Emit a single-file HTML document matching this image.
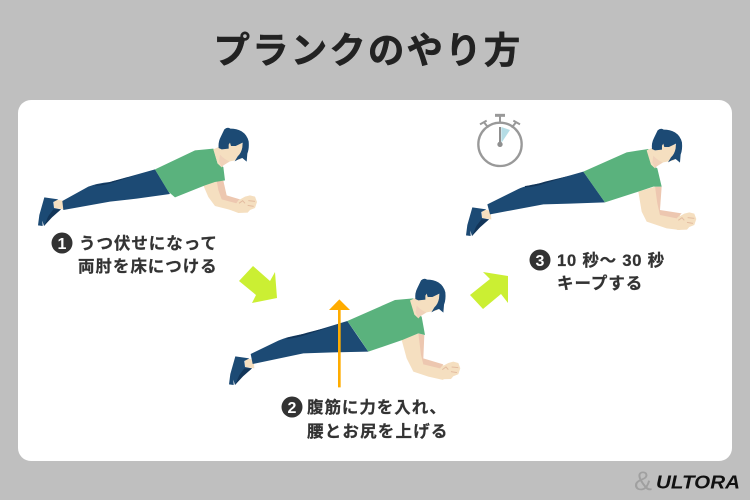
<!DOCTYPE html>
<html lang="ja"><head><meta charset="utf-8"><style>
html,body{margin:0;padding:0;background:#bfbfbf;width:750px;height:500px;overflow:hidden}
svg{display:block}
.t{font-family:"Liberation Sans","Noto Sans CJK JP",sans-serif;font-weight:700;fill:#333;stroke:#333;stroke-width:.25px;font-size:16.5px;letter-spacing:.95px}
.n{font-family:"Liberation Sans",sans-serif;font-weight:700;font-size:16px;fill:#fff}
</style></head><body>
<svg width="750" height="500" viewBox="0 0 750 500" xmlns="http://www.w3.org/2000/svg">
<defs>
<g id="head" transform="translate(195 122) scale(.33333)">
<path d="M55 82L100 62L145 64L136 112L105 118L85 130L80 136L68 125Z" fill="#f5dfc0"/>
<path d="M75 98Q88 112 103 118L85 130L80 136L72 118Z" fill="#f0d2ba"/>
<path d="M88 22Q98 14 106 20Q125 20 140 28Q156 38 161 58Q163 80 157 95L155 119L142 108L130 112L119 118L128 103Q139 93 142 76L143 62L122 72L108 72L105 62L101 68L101 80L80 82L71 78Q69 60 77 45Z" fill="#1c4a74"/>
</g>
<g id="fist" transform="translate(195 122) scale(.33333)">
<path d="M130 235L150 224L165 220L180 224L186 240L180 258L165 264L158 272L130 273L110 265Z" fill="#f5dfc0"/>
<path d="M160 236L180 238M158 250L176 253M132 244L143 236L150 244" stroke="#e3bca0" stroke-width="3" fill="none"/>
</g>
<g id="shoe" transform="translate(30 120) scale(.33333)">
<path d="M72 238L98 242L100 268L72 264Z" fill="#f5dfc0"/>
<path d="M43 232L85 238L70 246L72 264L93 268L66 290L42 318L37 302L38 318L24 316L28 285Z" fill="#1c4a74"/>
<path d="M70 268L93 268L66 292L42 318L55 288Z" fill="#123559"/>
</g>
</defs>

<rect width="750" height="500" fill="#bfbfbf"/>
<rect x="18" y="100" width="714" height="361" rx="13" fill="#fff"/>
<text x="213.5" y="63" style="font-family:'Noto Sans CJK JP',sans-serif;font-weight:700;font-size:36.5px;letter-spacing:2.1px;stroke:#222;stroke-width:.5px" fill="#222">プランクのやり方</text>

<!-- Figure 1 -->
<use href="#shoe"/>
<g transform="translate(30 120) scale(.33333)">
<path d="M97 243L175 200Q200 190 240 186L375 148L420 222L320 236L240 245L100 270Z" fill="#1c4a74"/>
<path d="M195 194Q220 193 250 183L320 165L250 187Q220 197 195 197Z" fill="#123559"/>
<path d="M520 196L570 182L590 228L630 240L625 278L595 268L555 258L535 231Z" fill="#f5dfc0"/>
<path d="M560 182L580 182L590 226L630 238L620 250L575 238L565 210Z" fill="#edc7b0"/>
<path d="M375 148L495 91L550 86L563 131L580 141L585 181L555 186L525 196L435 232L415 215Z" fill="#5ab27d"/>
</g>
<use href="#fist"/>
<use href="#head"/>

<!-- Figure 2 -->
<use href="#shoe" transform="translate(191 159)"/>
<g transform="translate(220 270) scale(.33333)">
<path d="M92 252L175 212Q200 200 260 190L382 153L445 245L340 247L250 250L98 282Z" fill="#1c4a74"/>
<path d="M200 203Q230 198 262 188L340 168L262 193Q230 204 200 207Z" fill="#123559"/>
<path d="M545 210L595 190L610 270L670 285L670 330L625 320L580 305L560 265Z" fill="#f5dfc0"/>
<path d="M595 190L613 195L610 265L670 283L660 295L610 283L603 255Z" fill="#edc7b0"/>
<path d="M382 153L525 90L580 85L587 130L605 140L615 195L595 190L547 210L445 245L415 200Z" fill="#5ab27d"/>
<path d="M358 352V118" stroke="#ffac00" stroke-width="8"/>
<path d="M327 120L358 88L390 120Z" fill="#ffac00"/>
</g>
<use href="#fist" transform="translate(203.3 166.3)"/>
<use href="#head" transform="translate(196.7 151)"/>

<!-- Figure 3 -->
<use href="#shoe" transform="translate(428 10)"/>
<g transform="translate(460 105) scale(.33333)">
<path d="M82 298L175 252Q200 240 250 234L370 200L435 292L330 296L250 298L90 328Z" fill="#1c4a74"/>
<path d="M195 243Q225 240 255 230L330 212L255 235Q225 246 195 247Z" fill="#123559"/>
<path d="M535 260L585 245L600 318L660 328L660 375L620 370L560 350L545 320Z" fill="#f5dfc0"/>
<path d="M585 245L605 245L600 315L665 325L650 340L600 330L592 295Z" fill="#edc7b0"/>
<path d="M370 200L500 142L565 132L575 178L592 190L605 245L580 245L535 260L435 292L405 250Z" fill="#5ab27d"/>
<circle cx="120" cy="118" r="65" fill="none" stroke="#999" stroke-width="7"/>
<path d="M124 66L150 75L124 114Z" fill="#b5dde6"/>
<path d="M120 118V66" stroke="#8f8f8f" stroke-width="6"/>
<circle cx="120" cy="118" r="8" fill="#8f8f8f"/>
<path d="M105 31H135" stroke="#999" stroke-width="9"/>
<path d="M120 30V54M72 52L85 68M60 58L80 47M168 52L155 68M180 58L160 47" stroke="#999" stroke-width="6" fill="none"/>
</g>
<use href="#fist" transform="translate(439.3 17)"/>
<use href="#head" transform="translate(433.3 1)"/>

<!-- Green arrows -->
<path d="M239 281L253 266L270 281L275 272L277 298L252 303L256 295Z" fill="#cbef33"/>
<path d="M470 295L490 279L483 272L508 276L508 303L501 294L483 309Z" fill="#cbef33"/>

<!-- Labels -->
<circle cx="62" cy="243" r="10.5" fill="#333"/>
<text class="n" x="62" y="249" text-anchor="middle">1</text>
<text class="t" x="79" y="249">うつ伏せになって</text>
<text class="t" x="78" y="272">両肘を床につける</text>

<circle cx="292" cy="407" r="10.5" fill="#333"/>
<text class="n" x="292" y="413" text-anchor="middle">2</text>
<text class="t" x="307" y="413">腹筋に力を入れ、</text>
<text class="t" x="307" y="437" style="letter-spacing:1.2px">腰とお尻を上げる</text>

<circle cx="540" cy="260" r="10.5" fill="#333"/>
<text class="n" x="540" y="266" text-anchor="middle">3</text>
<text class="t" x="557" y="266" style="letter-spacing:.8px">10 秒～ 30 秒</text>
<text class="t" x="557" y="289">キープする</text>

<!-- Logo -->
<text x="634" y="490" style="font-family:'Liberation Sans',sans-serif;font-size:27px" fill="#a0a0a0">&amp;</text>
<text x="656" y="488.5" textLength="84" lengthAdjust="spacingAndGlyphs" style="font-family:'Liberation Sans',sans-serif;font-weight:700;font-style:italic;font-size:18px" fill="#111">ULTORA</text>
</svg>
</body></html>
